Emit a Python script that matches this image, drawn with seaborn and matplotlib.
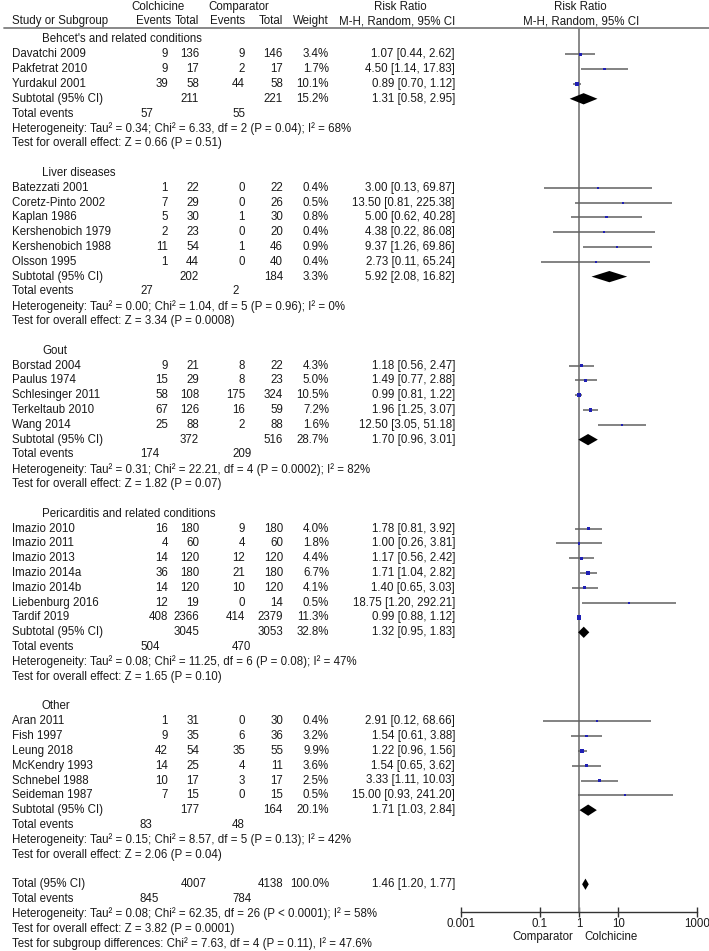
import matplotlib.pyplot as plt
import numpy as np
import pandas as pd
import seaborn as sns

# subgroups
group_names = ["Behcet's and related conditions", "Liver diseases", "Gout",
               "Pericarditis and related conditions", "Other"]

# individual studies
study = ["Davatchi 2009", "Pakfetrat 2010", "Yurdakul 2001",
         "Batezzati 2001", "Coretz-Pinto 2002", "Kaplan 1986", "Kershenobich 1979", "Kershenobich 1988", "Olsson 1995",
         "Borstad 2004", "Paulus 1974", "Schlesinger 2011", "Terkeltaub 2010", "Wang 2014",
         "Imazio 2010", "Imazio 2011", "Imazio 2013", "Imazio 2014a", "Imazio 2014b", "Liebenburg 2016", "Tardif 2019",
         "Aran 2011", "Fish 1997", "Leung 2018", "McKendry 1993", "Schnebel 1988", "Seideman 1987"]
study_group = [0, 0, 0, 1, 1, 1, 1, 1, 1, 2, 2, 2, 2, 2, 3, 3, 3, 3, 3, 3, 3, 4, 4, 4, 4, 4, 4]
col_events = [9, 9, 39, 1, 7, 5, 2, 11, 1, 9, 15, 58, 67, 25, 16, 4, 14, 36, 14, 12, 408, 1, 9, 42, 14, 10, 7]
col_total = [136, 17, 58, 22, 29, 30, 23, 54, 44, 21, 29, 108, 126, 88, 180, 60, 120, 180, 120, 19, 2366,
             31, 35, 54, 25, 17, 15]
cmp_events = [9, 2, 44, 0, 0, 1, 0, 1, 0, 8, 8, 175, 16, 2, 9, 4, 12, 21, 10, 0, 414, 0, 6, 35, 4, 3, 0]
cmp_total = [146, 17, 58, 22, 26, 30, 20, 46, 40, 22, 23, 324, 59, 88, 180, 60, 120, 180, 120, 14, 2379,
             30, 36, 55, 11, 17, 15]
weight = [3.4, 1.7, 10.1, 0.4, 0.5, 0.8, 0.4, 0.9, 0.4, 4.3, 5.0, 10.5, 7.2, 1.6, 4.0, 1.8, 4.4, 6.7, 4.1, 0.5, 11.3,
          0.4, 3.2, 9.9, 3.6, 2.5, 0.5]
rr = [1.07, 4.50, 0.89, 3.00, 13.50, 5.00, 4.38, 9.37, 2.73, 1.18, 1.49, 0.99, 1.96, 12.50,
      1.78, 1.00, 1.17, 1.71, 1.40, 18.75, 0.99, 2.91, 1.54, 1.22, 1.54, 3.33, 15.00]
rr_lo = [0.44, 1.14, 0.70, 0.13, 0.81, 0.62, 0.22, 1.26, 0.11, 0.56, 0.77, 0.81, 1.25, 3.05,
         0.81, 0.26, 0.56, 1.04, 0.65, 1.20, 0.88, 0.12, 0.61, 0.96, 0.65, 1.11, 0.93]
rr_hi = [2.62, 17.83, 1.12, 69.87, 225.38, 40.28, 86.08, 69.86, 65.24, 2.47, 2.88, 1.22, 3.07, 51.18,
         3.92, 3.81, 2.42, 2.82, 3.03, 292.21, 1.12, 68.66, 3.88, 1.56, 3.62, 10.03, 241.20]

# subtotals
sub_col_total = [211, 202, 372, 3045, 177]
sub_cmp_total = [221, 184, 516, 3053, 164]
sub_weight = [15.2, 3.3, 28.7, 32.8, 20.1]
sub_rr = [1.31, 5.92, 1.70, 1.32, 1.71]
sub_lo = [0.58, 2.08, 0.96, 0.95, 1.03]
sub_hi = [2.95, 16.82, 3.01, 1.83, 2.84]
sub_col_events = [57, 27, 174, 504, 83]
sub_cmp_events = [55, 2, 209, 470, 48]
sub_het = ["Tau\u00b2 = 0.34; Chi\u00b2 = 6.33, df = 2 (P = 0.04); I\u00b2 = 68%",
           "Tau\u00b2 = 0.00; Chi\u00b2 = 1.04, df = 5 (P = 0.96); I\u00b2 = 0%",
           "Tau\u00b2 = 0.31; Chi\u00b2 = 22.21, df = 4 (P = 0.0002); I\u00b2 = 82%",
           "Tau\u00b2 = 0.08; Chi\u00b2 = 11.25, df = 6 (P = 0.08); I\u00b2 = 47%",
           "Tau\u00b2 = 0.15; Chi\u00b2 = 8.57, df = 5 (P = 0.13); I\u00b2 = 42%"]
sub_effect = ["Z = 0.66 (P = 0.51)", "Z = 3.34 (P = 0.0008)", "Z = 1.82 (P = 0.07)",
              "Z = 1.65 (P = 0.10)", "Z = 2.06 (P = 0.04)"]

# overall
tot_col_total, tot_cmp_total, tot_weight = 4007, 4138, 100.0
tot_rr, tot_lo, tot_hi = 1.46, 1.20, 1.77
tot_col_events, tot_cmp_events = 845, 784
tot_het = "Tau\u00b2 = 0.08; Chi\u00b2 = 62.35, df = 26 (P < 0.0001); I\u00b2 = 58%"
tot_effect = "Z = 3.82 (P = 0.0001)"
subgroup_diff = "Chi\u00b2 = 7.63, df = 4 (P = 0.11), I\u00b2 = 47.6%"

x_ticks = [0.001, 0.1, 1, 10, 1000]
x_ticklabels = ["0.001", "0.1", "1", "10", "1000"]

sns.set_style("white")
plt.rcParams["font.family"] = ["Liberation Sans", "DejaVu Sans"]
FS = 8.3
TXT = "#1a1a1a"

W, H = 709, 951
Y0, DY = 39.5, 14.82       # pixel y of first row, row pitch
TOP_LINE, AXIS_Y = 28, 912
NAME_X, GROUP_X = 12, 42
CE_X, CT_X, PE_X, PT_X, W_X, RR_X = 168, 199, 245, 283, 329, 455
TE_C, TE_P = 140, 232

fig = plt.figure(figsize=(W / 100, H / 100), dpi=100)
ax = fig.add_axes([0, 0, 1, 1])
ax.set_xlim(0, W)
ax.set_ylim(H, 0)
ax.axis("off")

fx0, fx1 = 461, 697
fax = fig.add_axes([fx0 / W, (H - AXIS_Y) / H, (fx1 - fx0) / W, (AXIS_Y - TOP_LINE) / H])
fax.patch.set_alpha(0)


def py(row):
    return Y0 + row * DY


def put(x, row, s, ha="left"):
    ax.text(x, py(row), s, ha=ha, va="center", fontsize=FS, color=TXT)


# header
for x, s in [(158, "Colchicine"), (239, "Comparator"), (400, "Risk Ratio"), (580, "Risk Ratio")]:
    ax.text(x, 7, s, ha="center", va="center", fontsize=FS, color=TXT)
ax.text(NAME_X, 21, "Study or Subgroup", ha="left", va="center", fontsize=FS, color=TXT)
for x, s in [(171, "Events"), (CT_X, "Total"), (PE_X, "Events"), (PT_X, "Total"), (W_X, "Weight"),
             (RR_X, "M-H, Random, 95% CI")]:
    ax.text(x, 21, s, ha="right", va="center", fontsize=FS, color=TXT)
ax.text(581, 21, "M-H, Random, 95% CI", ha="center", va="center", fontsize=FS, color=TXT)
ax.plot([4, W], [TOP_LINE, TOP_LINE], color="#7f7f7f", lw=1.3)

df = pd.DataFrame({"study": study, "group": study_group, "ce": col_events, "ct": col_total,
                   "pe": cmp_events, "pt": cmp_total, "weight": weight,
                   "rr": rr, "lo": rr_lo, "hi": rr_hi})

rows = []
sub_rows = []
row = 0
for g, name in enumerate(group_names):
    put(GROUP_X, row, name)
    row += 1
    for i in df.index[df["group"] == g]:
        rows.append(row)
        r = df.loc[i]
        put(NAME_X, row, r["study"])
        put(CE_X, row, str(r["ce"]), "right")
        put(CT_X, row, str(r["ct"]), "right")
        put(PE_X, row, str(r["pe"]), "right")
        put(PT_X, row, str(r["pt"]), "right")
        put(W_X, row, f"{r['weight']:.1f}%", "right")
        put(RR_X, row, f"{r['rr']:.2f} [{r['lo']:.2f}, {r['hi']:.2f}]", "right")
        row += 1
    sub_rows.append(row)
    put(NAME_X, row, "Subtotal (95% CI)")
    put(CT_X, row, str(sub_col_total[g]), "right")
    put(PT_X, row, str(sub_cmp_total[g]), "right")
    put(W_X, row, f"{sub_weight[g]:.1f}%", "right")
    put(RR_X, row, f"{sub_rr[g]:.2f} [{sub_lo[g]:.2f}, {sub_hi[g]:.2f}]", "right")
    put(NAME_X, row + 1, "Total events")
    put(TE_C, row + 1, str(sub_col_events[g]))
    put(TE_P, row + 1, str(sub_cmp_events[g]))
    put(NAME_X, row + 2, "Heterogeneity: " + sub_het[g])
    put(NAME_X, row + 3, "Test for overall effect: " + sub_effect[g])
    row += 5

tot_row = row
put(NAME_X, row, "Total (95% CI)")
put(CT_X + 8, row, str(tot_col_total), "right")
put(PT_X, row, str(tot_cmp_total), "right")
put(W_X, row, f"{tot_weight:.1f}%", "right")
put(RR_X, row, f"{tot_rr:.2f} [{tot_lo:.2f}, {tot_hi:.2f}]", "right")
put(NAME_X, row + 1, "Total events")
put(TE_C, row + 1, str(tot_col_events))
put(TE_P, row + 1, str(tot_cmp_events))
put(NAME_X, row + 2, "Heterogeneity: " + tot_het)
put(NAME_X, row + 3, "Test for overall effect: " + tot_effect)
put(NAME_X, row + 4, "Test for subgroup differences: " + subgroup_diff)

# forest panel
df["row"] = rows
fax.set_xscale("log")
fax.set_xlim(0.001, 1000)
fax.set_ylim((AXIS_Y - Y0) / DY, (TOP_LINE - Y0) / DY)
fax.axvline(1, color="#7f7f7f", lw=1.3, zorder=1)
fax.hlines(df["row"], df["lo"], df["hi"], color="#606060", lw=1.1, zorder=2)
sns.scatterplot(data=df, x="rr", y="row", size="weight", sizes=(2, 10), marker="s",
                color="#1f1fb4", edgecolor="none", legend=False, ax=fax, zorder=3)

half = 0.38
for g, r in enumerate(sub_rows):
    fax.fill([sub_lo[g], sub_rr[g], sub_hi[g], sub_rr[g]], [r, r - half, r, r + half],
             color="black", lw=0, zorder=4)
fax.fill([tot_lo, tot_rr, tot_hi, tot_rr], [tot_row, tot_row - half, tot_row, tot_row + half],
         color="black", lw=0, zorder=4)

for side in ["top", "left", "right"]:
    fax.spines[side].set_visible(False)
fax.spines["bottom"].set_color("#333333")
fax.spines["bottom"].set_linewidth(1.0)
fax.set_xticks(x_ticks)
fax.set_xticklabels(x_ticklabels)
fax.minorticks_off()
fax.tick_params(axis="x", direction="inout", length=7, width=1.0, color="#333333",
                labelsize=FS, labelcolor=TXT, pad=1, bottom=True)
fax.set_yticks([])
fax.set_xlabel("")
fax.set_ylabel("")
fax.annotate("Comparator", xy=(1, 0), xycoords=("data", "axes fraction"), xytext=(-4, -18),
             textcoords="offset points", ha="right", va="center", fontsize=FS, color=TXT)
fax.annotate("Colchicine", xy=(1, 0), xycoords=("data", "axes fraction"), xytext=(4, -18),
             textcoords="offset points", ha="left", va="center", fontsize=FS, color=TXT)

fig.savefig("out.png", dpi=100, facecolor="white")
